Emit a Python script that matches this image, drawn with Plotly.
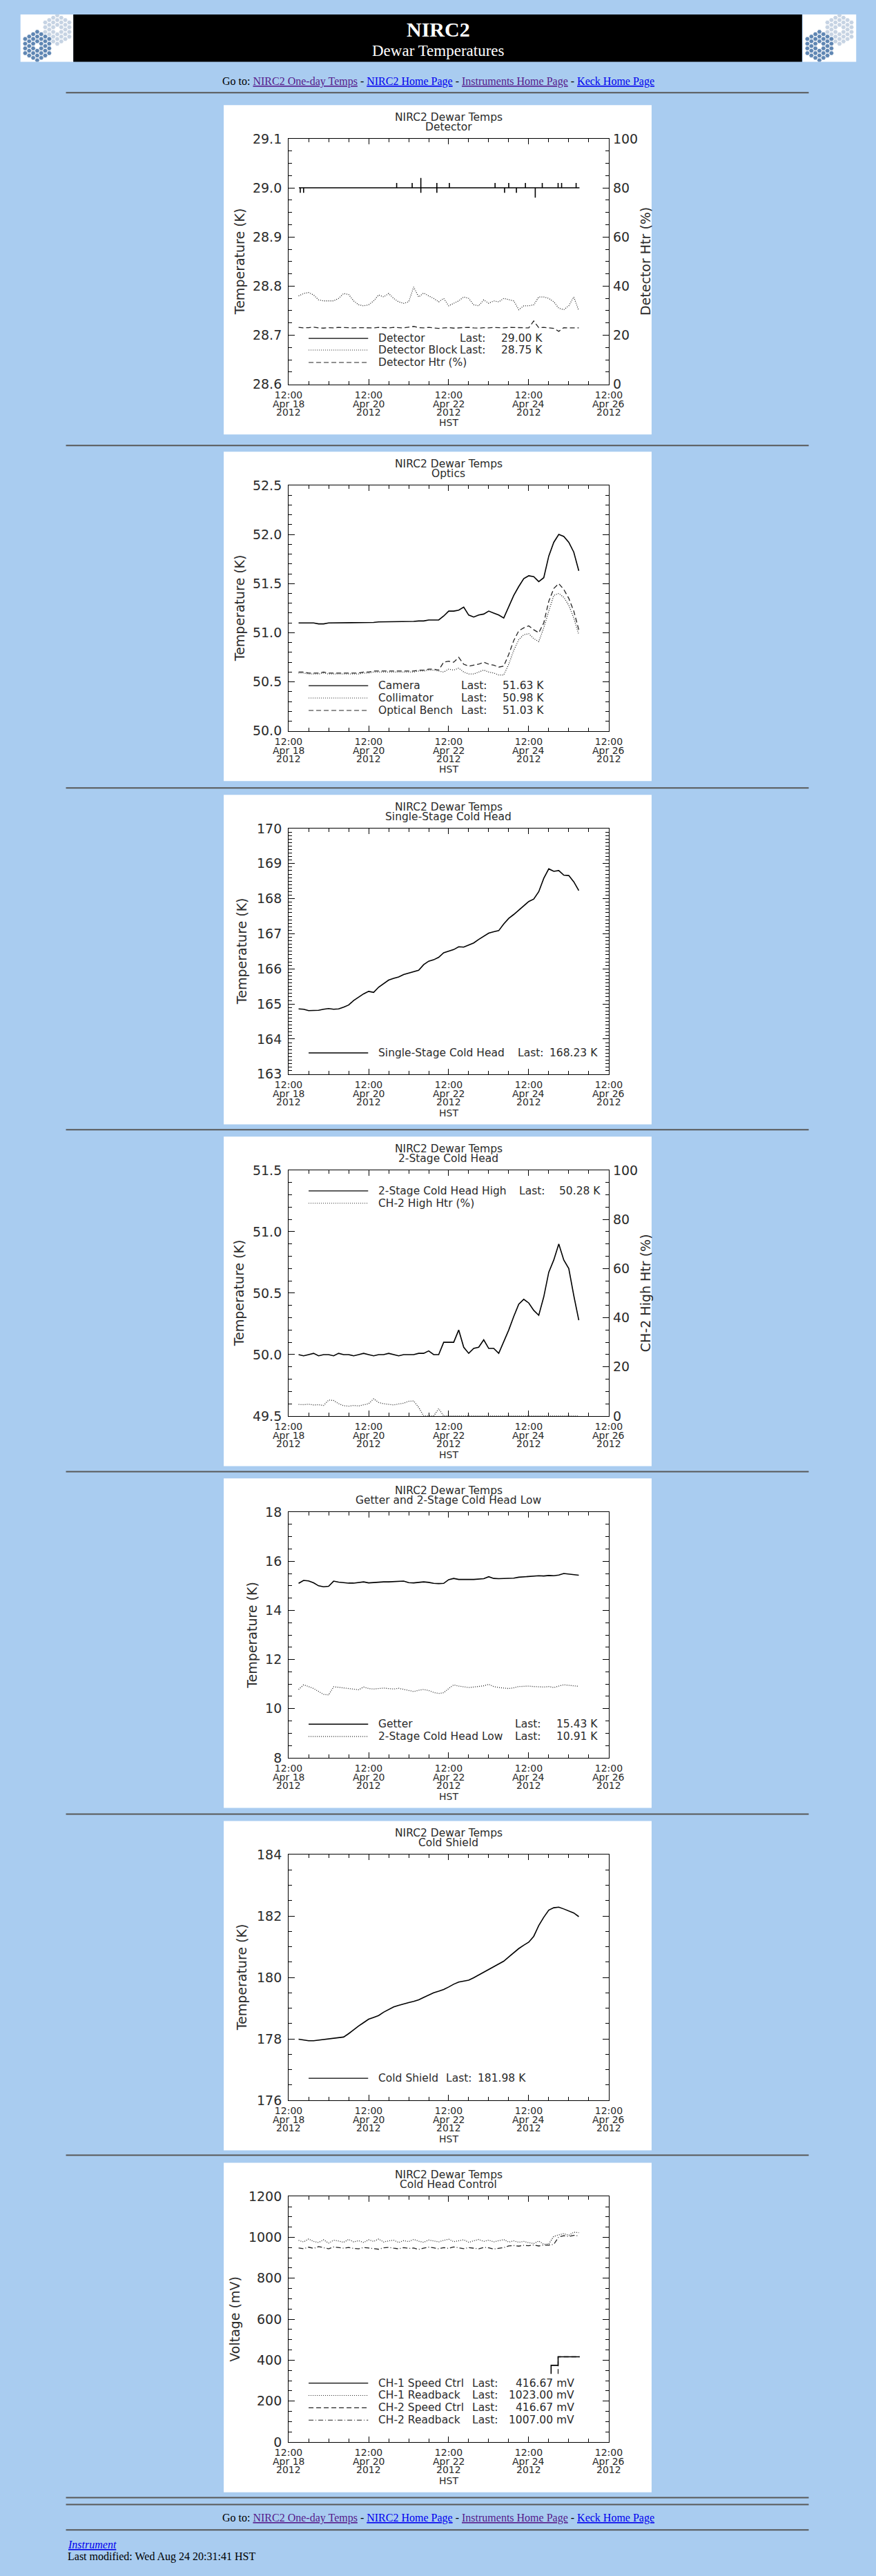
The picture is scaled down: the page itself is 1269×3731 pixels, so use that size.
import pandas as pd
import plotly.graph_objects as go

# ---- data (hours after 2012-04-18 12:00 HST) ----
T0 = pd.Timestamp("2012-04-18 12:00")
sample_hours = list(range(6, 175, 3))

tick_times = ["2012-04-18 12:00", "2012-04-20 12:00", "2012-04-22 12:00",
              "2012-04-24 12:00", "2012-04-26 12:00"]
tick_dates = ["Apr 18", "Apr 20", "Apr 22", "Apr 24", "Apr 26"]
tick_year = "2012"

detector_start, detector_end, detector_base = 6.2, 174.4, 29.00
detector_spike_hours = [7.0, 9.0, 64.8, 74.1, 79.3, 79.3, 88.9, 88.9, 96.4, 123.8,
                        129.5, 132.0, 136.6, 142.0, 147.9, 152.1, 161.6, 163.7, 172.4]
detector_spike_values = [28.99, 28.99, 29.01, 29.01, 29.02, 28.99, 29.01, 28.99, 29.01, 29.01,
                         28.99, 29.01, 28.99, 29.01, 28.98, 29.01, 29.01, 29.01, 29.01]
detector_block = [28.780, 28.785, 28.787, 28.782, 28.772, 28.770, 28.770, 28.770, 28.775, 28.785,
                  28.783, 28.770, 28.762, 28.760, 28.762, 28.770, 28.782, 28.778, 28.785, 28.775,
                  28.768, 28.765, 28.768, 28.798, 28.778, 28.786, 28.780, 28.775, 28.768, 28.775,
                  28.760, 28.765, 28.770, 28.778, 28.775, 28.762, 28.760, 28.772, 28.765, 28.770,
                  28.768, 28.775, 28.772, 28.770, 28.752, 28.760, 28.760, 28.762, 28.778, 28.778,
                  28.775, 28.768, 28.755, 28.752, 28.760, 28.778, 28.750]
detector_htr = [23.2, 23.0, 23.1, 23.3, 23.0, 22.9, 23.1, 23.0, 23.2, 23.1,
                22.9, 23.0, 23.1, 23.0, 22.9, 23.0, 23.2, 23.1, 23.0, 23.2,
                23.1, 23.0, 23.3, 23.6, 23.1, 23.0, 23.2, 23.1, 22.8, 23.0,
                23.1, 22.9, 23.0, 23.1, 23.2, 23.0, 22.9, 23.1, 23.0, 23.2,
                23.1, 23.0, 23.2, 23.1, 23.0, 23.1, 23.0, 25.8, 23.1, 23.2,
                23.0, 22.8, 21.6, 23.1, 23.0, 23.1, 23.0]

camera = [51.10, 51.10, 51.10, 51.10, 51.09, 51.09, 51.10, 51.10, 51.10, 51.10,
          51.10, 51.10, 51.10, 51.10, 51.10, 51.105, 51.11, 51.11, 51.11, 51.11,
          51.11, 51.11, 51.11, 51.115, 51.12, 51.12, 51.13, 51.13, 51.13, 51.17,
          51.22, 51.22, 51.23, 51.26, 51.18, 51.16, 51.18, 51.19, 51.22, 51.20,
          51.18, 51.15, 51.27, 51.38, 51.47, 51.55, 51.58, 51.57, 51.52, 51.56,
          51.78, 51.92, 52.00, 51.98, 51.92, 51.82, 51.63]
collimator = [50.59, 50.59, 50.58, 50.58, 50.58, 50.59, 50.58, 50.58, 50.58, 50.58,
              50.58, 50.58, 50.58, 50.59, 50.59, 50.60, 50.60, 50.60, 50.60, 50.60,
              50.60, 50.60, 50.60, 50.60, 50.61, 50.61, 50.62, 50.62, 50.61, 50.60,
              50.63, 50.62, 50.64, 50.60, 50.58, 50.58, 50.60, 50.62, 50.60, 50.59,
              50.57, 50.57, 50.68, 50.82, 50.93, 50.98, 50.99, 50.94, 50.91, 51.05,
              51.22, 51.38, 51.40, 51.36, 51.28, 51.15, 50.98]
optical_bench = [50.60, 50.60, 50.59, 50.59, 50.59, 50.60, 50.59, 50.59, 50.59, 50.59,
                 50.59, 50.59, 50.59, 50.60, 50.60, 50.61, 50.61, 50.61, 50.61, 50.61,
                 50.61, 50.61, 50.61, 50.61, 50.62, 50.62, 50.63, 50.63, 50.62, 50.70,
                 50.71, 50.70, 50.75, 50.68, 50.66, 50.67, 50.68, 50.70, 50.68, 50.67,
                 50.65, 50.66, 50.78, 50.92, 51.02, 51.05, 51.07, 51.03, 51.00, 51.10,
                 51.32, 51.45, 51.50, 51.44, 51.35, 51.22, 51.03]

single_stage = [164.86, 164.85, 164.81, 164.81, 164.82, 164.85, 164.87, 164.85, 164.86, 164.91,
                164.97, 165.10, 165.20, 165.29, 165.36, 165.33, 165.48, 165.58, 165.68, 165.73,
                165.77, 165.84, 165.88, 165.91, 165.96, 166.12, 166.22, 166.26, 166.33, 166.46,
                166.51, 166.55, 166.63, 166.62, 166.68, 166.74, 166.84, 166.93, 167.02, 167.06,
                167.09, 167.28, 167.44, 167.55, 167.67, 167.80, 167.92, 167.99, 168.20, 168.58,
                168.85, 168.78, 168.80, 168.67, 168.66, 168.48, 168.23]

two_stage_high = [50.00, 49.99, 50.00, 50.01, 49.99, 50.00, 50.00, 49.99, 50.01, 50.00,
                  50.00, 49.99, 50.00, 50.01, 50.00, 49.99, 50.00, 50.00, 50.01, 50.00,
                  49.99, 50.00, 50.00, 50.00, 50.01, 50.01, 50.03, 50.00, 50.00, 50.10,
                  50.10, 50.10, 50.20, 50.06, 50.01, 50.05, 50.06, 50.12, 50.05, 50.05,
                  50.01, 50.10, 50.20, 50.31, 50.41, 50.45, 50.42, 50.36, 50.32, 50.47,
                  50.67, 50.77, 50.90, 50.77, 50.70, 50.48, 50.28]
ch2_high_htr = [4.7, 4.6, 4.8, 4.5, 4.6, 4.3, 6.5, 6.3, 5.0, 4.2,
                4.0, 4.3, 4.1, 4.5, 5.0, 7.0, 5.5, 5.0, 4.8, 4.5,
                4.9, 5.2, 6.0, 6.1, 3.5, 0.0, 0.0, 0.0, 3.0, 0.0,
                0.0, 0.0, 0.0, 0.0, 0.0, 0.0, 0.0, 0.0, 0.0, 0.0,
                0.0, 0.0, 0.0, 0.0, 0.0, 0.0, 0.0, 0.0, 0.0, 0.0,
                0.0, 0.0, 0.0, 0.0, 0.0, 0.0, 0.0]

getter = [15.10, 15.22, 15.20, 15.12, 15.00, 14.96, 14.98, 15.19, 15.15, 15.12,
          15.11, 15.11, 15.13, 15.16, 15.12, 15.14, 15.15, 15.16, 15.16, 15.17,
          15.18, 15.19, 15.13, 15.12, 15.14, 15.16, 15.14, 15.10, 15.09, 15.10,
          15.25, 15.30, 15.26, 15.25, 15.26, 15.26, 15.27, 15.29, 15.37, 15.30,
          15.29, 15.30, 15.31, 15.31, 15.35, 15.37, 15.37, 15.39, 15.41, 15.40,
          15.42, 15.41, 15.44, 15.50, 15.47, 15.46, 15.43]
two_stage_low = [10.78, 10.97, 10.90, 10.82, 10.70, 10.58, 10.56, 10.89, 10.87, 10.84,
                 10.83, 10.80, 10.77, 10.88, 10.82, 10.80, 10.83, 10.84, 10.82, 10.80,
                 10.83, 10.78, 10.74, 10.70, 10.75, 10.78, 10.74, 10.66, 10.62, 10.65,
                 10.82, 10.97, 10.92, 10.88, 10.86, 10.88, 10.90, 10.93, 10.99, 10.90,
                 10.86, 10.84, 10.82, 10.85, 10.90, 10.91, 10.92, 10.90, 10.89, 10.88,
                 10.90, 10.86, 10.92, 10.97, 10.95, 10.93, 10.91]

cold_shield = [177.99, 177.96, 177.94, 177.94, 177.96, 177.98, 177.99, 178.01, 178.03, 178.06,
               178.17, 178.30, 178.42, 178.53, 178.64, 178.70, 178.76, 178.87, 178.96, 179.04,
               179.09, 179.14, 179.18, 179.22, 179.27, 179.35, 179.43, 179.50, 179.55, 179.61,
               179.69, 179.78, 179.85, 179.88, 179.91, 179.99, 180.08, 180.17, 180.26, 180.34,
               180.43, 180.53, 180.67, 180.81, 180.94, 181.05, 181.15, 181.34, 181.69, 181.96,
               182.19, 182.27, 182.29, 182.23, 182.17, 182.10, 181.98]

ch1_readback = [985, 978, 992, 980, 975, 988, 972, 986, 982, 976,
                990, 978, 984, 975, 988, 980, 992, 977, 983, 986,
                975, 984, 979, 990, 981, 976, 987, 982, 978, 985,
                991, 979, 984, 988, 976, 983, 990, 980, 986, 978,
                984, 989, 977, 983, 976, 980, 974, 970, 982, 966,
                968, 1005, 1012, 1018, 1010, 1025, 1023]
ch2_readback = [948, 945, 952, 946, 955, 950, 944, 953, 949, 947,
                951, 946, 944, 950, 948, 945, 942, 949, 951, 947,
                944, 950, 946, 948, 941, 947, 952, 949, 944, 950,
                946, 953, 948, 945, 950, 947, 944, 951, 949, 943,
                946, 950, 958, 960, 957, 961, 959, 963, 958, 962,
                962, 966, 1002, 1008, 1004, 1010, 1007]
ch1_speed_hours = [157.4, 157.4, 161.6, 161.6, 174.5]
ch1_speed = [333.0, 375.0, 375.0, 416.67, 416.67]
ch2_speed_hours = [161.6, 161.6, 174.5]
ch2_speed = [333.0, 416.67, 416.67]

# ---- page geometry (pixels) ----
PAGE_W, PAGE_H = 1269, 3731
BG = "#A9CCF0"
PANEL_LEFT, PANEL_W, PANEL_H = 314, 640, 480
PANEL_TOPS = [142, 647, 1147, 1645, 2143, 2642, 3140]
PLOT_L, PLOT_R, PLOT_T, PLOT_B = 97, 576, 49, 407
HR_LINES = [124, 638, 1137, 1635, 2133, 2632, 3129, 3628, 3638, 3675]

IDL_FONT = "DejaVu Sans"
HTML_FONT = "Liberation Serif"
INK = "#2b2b2b"
DASHES = {"solid": "solid", "dot": "1px,2px", "dash": "7px,4px", "dashdot": "7px,3px,1px,3px"}


def px(x):
    return x / PAGE_W


def py(y):
    return 1 - y / PAGE_H


def times(hours):
    return [T0 + pd.Timedelta(hours=h) for h in hours]


det_hours, det_vals = [detector_start], [detector_base]
for h, v in zip(detector_spike_hours, detector_spike_values):
    det_hours += [h, h, h]
    det_vals += [detector_base, v, detector_base]
det_hours.append(detector_end)
det_vals.append(detector_base)

panels = [
    dict(sub="Detector", ytitle="Temperature (K)", ytitle_x=337, yr=[28.6, 29.1], dtick=0.1, minor=0.025, fmt=".1f",
         right=dict(title="Detector Htr (%)", x=945),
         series=[(det_hours, det_vals, "solid", False), (sample_hours, detector_block, "dot", False),
                 (sample_hours, detector_htr, "dash", True)],
         legend=dict(rows=[340, 357, 375], last_x=394, val_x=479,
                     items=[("solid", "Detector", f"{det_vals[-1]:.2f} K"),
                            ("dot", "Detector Block", f"{detector_block[-1]:.2f} K"),
                            ("dash", "Detector Htr (%)", None)])),
    dict(sub="Optics", ytitle="Temperature (K)", ytitle_x=337, yr=[50.0, 52.5], dtick=0.5, minor=0.1, fmt=".1f",
         series=[(sample_hours, camera, "solid", False), (sample_hours, collimator, "dot", False),
                 (sample_hours, optical_bench, "dash", False)],
         legend=dict(rows=[341, 359, 377], last_x=396, val_x=481,
                     items=[("solid", "Camera", f"{camera[-1]:.2f} K"),
                            ("dot", "Collimator", f"{collimator[-1]:.2f} K"),
                            ("dash", "Optical Bench", f"{optical_bench[-1]:.2f} K")])),
    dict(sub="Single-Stage Cold Head", ytitle="Temperature (K)", ytitle_x=341, yr=[163, 170], dtick=1, minor=0.1,
         fmt="d", series=[(sample_hours, single_stage, "solid", False)],
         legend=dict(rows=[376], last_x=481, val_x=562,
                     items=[("solid", "Single-Stage Cold Head", f"{single_stage[-1]:.2f} K")])),
    dict(sub="2-Stage Cold Head", ytitle="Temperature (K)", ytitle_x=337, yr=[49.5, 51.5], dtick=0.5, minor=0.1,
         fmt=".1f", right=dict(title="CH-2 High Htr (%)", x=945),
         series=[(sample_hours, two_stage_high, "solid", False), (sample_hours, ch2_high_htr, "dot", True)],
         legend=dict(rows=[79, 97], last_x=483, val_x=566,
                     items=[("solid", "2-Stage Cold Head High", f"{two_stage_high[-1]:.2f} K"),
                            ("dot", "CH-2 High Htr (%)", None)])),
    dict(sub="Getter and 2-Stage Cold Head Low", ytitle="Temperature (K)", ytitle_x=356, yr=[8, 18], dtick=2,
         minor=0.5, fmt="d",
         series=[(sample_hours, getter, "solid", False), (sample_hours, two_stage_low, "dot", False)],
         legend=dict(rows=[358, 376], last_x=477, val_x=562,
                     items=[("solid", "Getter", f"{getter[-1]:.2f} K"),
                            ("dot", "2-Stage Cold Head Low", f"{two_stage_low[-1]:.2f} K")])),
    dict(sub="Cold Shield", ytitle="Temperature (K)", ytitle_x=341, yr=[176, 184], dtick=2, minor=0.5, fmt="d",
         series=[(sample_hours, cold_shield, "solid", False)],
         legend=dict(rows=[375], last_x=374, val_x=454,
                     items=[("solid", "Cold Shield", f"{cold_shield[-1]:.2f} K")])),
    dict(sub="Cold Head Control", ytitle="Voltage (mV)", ytitle_x=331, yr=[0, 1200], dtick=200, minor=50, fmt="d",
         series=[(sample_hours, ch2_readback, "dashdot", False), (sample_hours, ch1_readback, "dot", False),
                 (ch2_speed_hours, ch2_speed, "dash", False), (ch1_speed_hours, ch1_speed, "solid", False)],
         legend=dict(rows=[321, 339, 357, 375], last_x=413, val_x=527,
                     items=[("solid", "CH-1 Speed Ctrl", f"{ch1_speed[-1]:.2f} mV"),
                            ("dot", "CH-1 Readback", f"{ch1_readback[-1]:.2f} mV"),
                            ("dash", "CH-2 Speed Ctrl", f"{ch2_speed[-1]:.2f} mV"),
                            ("dashdot", "CH-2 Readback", f"{ch2_readback[-1]:.2f} mV")])),
]

fig = go.Figure()
layout = dict(width=PAGE_W, height=PAGE_H, margin=dict(l=0, r=0, t=0, b=0), paper_bgcolor=BG,
              plot_bgcolor="white", showlegend=False)
shapes, annotations = [], []


def note(text, x, y, size, xanchor="center", family=IDL_FONT, color=INK, angle=0, xref="paper"):
    annotations.append(dict(text=text, x=x, y=y, xref=xref, yref="paper", showarrow=False, xanchor=xanchor,
                            yanchor="middle", textangle=angle, font=dict(family=family, size=size, color=color)))


tick_font = dict(family=IDL_FONT, color=INK)
next_right = 8
for i, p in enumerate(panels, 1):
    top = PANEL_TOPS[i - 1]
    sfx = "" if i == 1 else str(i)
    xname, yname = "x" + sfx, "y" + sfx
    shapes.append(dict(type="rect", xref="paper", yref="paper", x0=px(PANEL_LEFT), x1=px(PANEL_LEFT + PANEL_W),
                       y0=py(top + PANEL_H), y1=py(top), fillcolor="white", line=dict(width=0), layer="below"))
    layout["xaxis" + sfx] = dict(
        domain=[px(PANEL_LEFT + PLOT_L), px(PANEL_LEFT + PLOT_R)], anchor=yname, type="date",
        range=[tick_times[0], tick_times[-1]], tickmode="array", tickvals=tick_times, ticktext=["12:00"] * 5,
        ticks="inside", ticklen=8, tickcolor="black", showline=True, linecolor="black", linewidth=1,
        mirror="ticks", showgrid=False, zeroline=False, ticklabelstandoff=2,
        tickfont=dict(size=14, **tick_font),
        minor=dict(dtick=12 * 3600 * 1000, tick0=tick_times[0], ticks="inside", ticklen=5,
                   tickcolor="black", showgrid=False))
    has_right = "right" in p
    layout["yaxis" + sfx] = dict(
        domain=[py(top + PLOT_B), py(top + PLOT_T)], anchor=xname, range=p["yr"], tickmode="linear",
        tick0=p["yr"][0], dtick=p["dtick"], tickformat=p["fmt"], ticks="inside", ticklen=9, tickcolor="black",
        showline=True, linecolor="black", linewidth=1, mirror=True if has_right else "ticks", showgrid=False,
        zeroline=False, ticklabelstandoff=5, tickfont=dict(size=19, **tick_font),
        minor=dict(dtick=p["minor"], tick0=p["yr"][0], ticks="inside", ticklen=5, tickcolor="black",
                   showgrid=False))
    right_name = None
    if has_right:
        right_name = "y" + str(next_right)
        layout["yaxis" + str(next_right)] = dict(
            overlaying=yname, anchor=xname, side="right", range=[0, 100], tickmode="linear", tick0=0, dtick=20,
            ticks="inside", ticklen=9, tickcolor="black", showline=False, showgrid=False, zeroline=False,
            ticklabelstandoff=5, tickfont=dict(size=19, **tick_font),
            minor=dict(dtick=5, tick0=0, ticks="inside", ticklen=5, tickcolor="black", showgrid=False))
        next_right += 1
        note(p["right"]["title"], px(p["right"]["x"]), py(top + 228), 19, angle=-90)

    for hours, vals, dash, on_right in p["series"]:
        width = 1.6 if dash == "solid" else 1.3
        fig.add_trace(go.Scatter(
            x=times(hours), y=vals, mode="lines", xaxis=xname, yaxis=right_name if on_right else yname,
            line=dict(color="black" if dash == "solid" else "#222222", width=width, dash=DASHES[dash]),
            hoverinfo="skip", showlegend=False))

    cx = px(PANEL_LEFT + (PLOT_L + PLOT_R) / 2)
    note("NIRC2 Dewar Temps", cx, py(top + 18), 15.5)
    note(p["sub"], cx, py(top + 32), 15.5)
    note("HST", cx, py(top + 463), 14)
    note(p["ytitle"], px(p["ytitle_x"]), py(top + 228), 19, angle=-90)
    for t, d in zip(tick_times, tick_dates):
        note(d, t, py(top + 435), 14, xref=xname)
        note(tick_year, t, py(top + 447), 14, xref=xname)

    lg = p["legend"]
    for row_y, (dash, name, last) in zip(lg["rows"], lg["items"]):
        shapes.append(dict(type="line", xref="paper", yref="paper", x0=px(PANEL_LEFT + 127),
                           x1=px(PANEL_LEFT + 216), y0=py(top + row_y), y1=py(top + row_y),
                           line=dict(color="black" if dash == "solid" else "#222222",
                                     width=1.3 if dash == "solid" else 1.1, dash=DASHES[dash])))
        note(name, px(PANEL_LEFT + 229), py(top + row_y), 15.5, xanchor="left")
        if last is not None:
            note("Last:", px(PANEL_LEFT + lg["last_x"]), py(top + row_y), 15.5, xanchor="right")
            note(last, px(PANEL_LEFT + lg["val_x"]), py(top + row_y), 15.5, xanchor="right")

# ---- page header / footer ----
shapes.append(dict(type="rect", xref="paper", yref="paper", x0=px(89), x1=px(1179), y0=py(79), y1=py(10),
                   fillcolor="black", line=dict(width=0), layer="below"))
for y in HR_LINES:
    shapes.append(dict(type="line", xref="paper", yref="paper", x0=px(78), x1=px(1189), y0=py(y), y1=py(y),
                       line=dict(color="#585858", width=2)))

note("<b>NIRC2</b>", 0.5, py(32), 30, family=HTML_FONT, color="white")
note("Dewar Temperatures", 0.5, py(63), 23, family=HTML_FONT, color="white")


def link(text, color):
    return f"<span style='color:{color};text-decoration:underline'>{text}</span>"


goto = ("Go to: " + link("NIRC2 One-day Temps", "#551A8B") + " - " + link("NIRC2 Home Page", "#0000EE")
        + " - " + link("Instruments Home Page", "#551A8B") + " - " + link("Keck Home Page", "#0000EE"))
note(goto, 0.5, py(108), 16, family=HTML_FONT, color="black")
note(goto, 0.5, py(3658), 16, family=HTML_FONT, color="black")
note("<i>" + link("Instrument", "#0000EE") + "</i>", px(78), py(3696), 16, xanchor="left",
     family=HTML_FONT, color="black")
note("Last modified: Wed Aug 24 20:31:41 HST", px(78), py(3714), 16, xanchor="left",
     family=HTML_FONT, color="black")

# ---- logos: hexagon-segment clusters on white tiles ----
hex_x, hex_y, hex_c = [], [], []
for cx0, cy0, colour in [(55, 22, "#C6D3E3"), (25, 46, "#5F86B3")]:
    for q in range(-3, 4):
        for r in range(-3, 4):
            if max(abs(q), abs(r), abs(q + r)) > 3 or (q, r) == (0, 0):
                continue
            hex_x.append(cx0 + 6 * q)
            hex_y.append(cy0 + 6.9 * (r + q / 2))
            hex_c.append(colour)
for k, (x0, x1) in enumerate([(10, 89), (1180, 1260)], 20):
    layout[f"xaxis{k}"] = dict(domain=[px(x0), px(x1)], anchor=f"y{k}", range=[0, x1 - x0], visible=False)
    layout[f"yaxis{k}"] = dict(domain=[py(79), py(10)], anchor=f"x{k}", range=[69, 0], visible=False)
    fig.add_trace(go.Scatter(x=hex_x, y=hex_y, mode="markers", xaxis=f"x{k}", yaxis=f"y{k}",
                             marker=dict(symbol="hexagon2", size=7, color=hex_c, line=dict(color="white", width=0.6)),
                             hoverinfo="skip", showlegend=False, cliponaxis=True))

layout["shapes"] = shapes
layout["annotations"] = annotations
fig.update_layout(**layout)

fig.write_html("out.html", config={"displayModeBar": False},
               post_script="document.body.style.margin='0';")
